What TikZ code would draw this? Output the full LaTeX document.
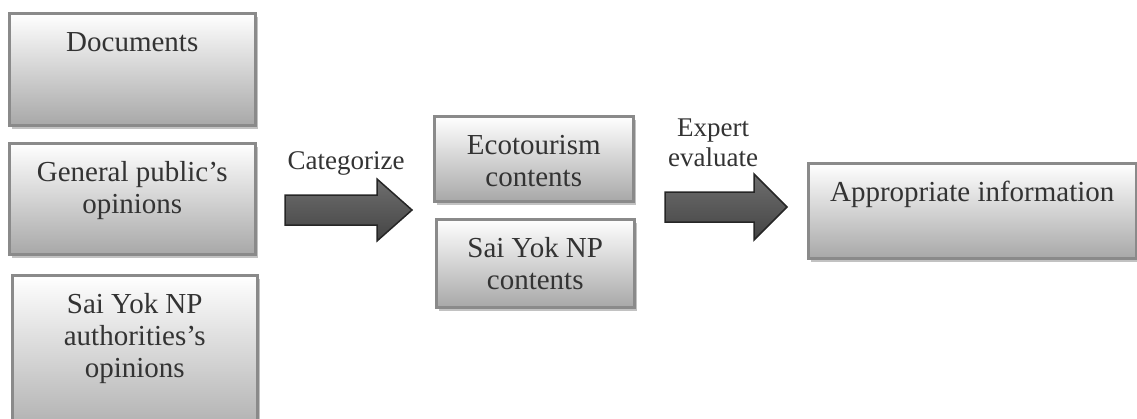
\documentclass[tikz,border=0pt]{standalone}
\usepackage{fontspec}
\setmainfont{Liberation Serif}
\usetikzlibrary{calc,shadows}
\definecolor{txt}{HTML}{333333}
\definecolor{bord}{HTML}{8A8A8A}
\definecolor{boxbot}{HTML}{A8A8A8}
\definecolor{shad}{HTML}{C2C2C2}
\definecolor{arrline}{HTML}{262626}
\definecolor{arrshad}{HTML}{A5A5A5}
\definecolor{arrtop}{HTML}{6E6E6E}
\definecolor{arrmid}{HTML}{1E1E1E}
\definecolor{arrbot}{HTML}{444444}
\begin{document}
\begin{tikzpicture}[x=1pt,y=-1pt,
  box/.style={draw=bord, line width=2.5pt, top color=white, bottom color=boxbot,
    anchor=north west, inner sep=0pt,
    drop shadow={shadow xshift=3pt, shadow yshift=-4pt, fill=shad, opacity=1}},
  btext/.style={font=\fontsize{29}{32}\selectfont, text=txt, align=center,
    inner sep=0pt, anchor=north},
  ltext/.style={font=\fontsize{27}{30}\selectfont, text=txt, align=center,
    inner sep=0pt, anchor=north},
  blockarrow/.style={draw=arrline, line width=1.5pt, line join=miter,
    top color=arrtop, middle color=arrmid, bottom color=arrbot},
  arrowshadow/.style={fill=arrshad, draw=none}
]
\useasboundingbox (0,0) rectangle (1137,418);
\clip (0,0) rectangle (1137,418);

% boxes
\node[box, minimum width=246pt, minimum height=112pt] (doc) at (8,12) {};
\node[box, minimum width=246pt, minimum height=111pt] (pub) at (8,142) {};
\node[box, minimum width=245pt, minimum height=170pt] (auth) at (11,274) {};
\node[box, minimum width=199pt, minimum height=85pt] (eco) at (433,115) {};
\node[box, minimum width=198pt, minimum height=88pt] (np) at (435,218) {};
\node[box, minimum width=328pt, minimum height=95pt] (app) at (807,162) {};

% box texts
\node[btext] (doct) at ($(doc.north)+(0,17)$) {\strut Documents};
\node[btext] (pubt) at ($(pub.north)+(0,17)$) {\strut General public’s\\opinions};
\node[btext] (autht) at ($(auth.north)+(0,17)$) {\strut Sai Yok NP\\authorities’s\\opinions};
\node[btext] (ecot) at ($(eco.north)+(0,17)$) {\strut Ecotourism\\contents};
\node[btext] (npt) at ($(np.north)+(0,17)$) {\strut Sai Yok NP\\contents};
\node[btext] (appt) at ($(app.north)+(0,17)$) {\strut Appropriate information};

% arrow 1
\coordinate (a1) at (285,210);
\coordinate (b1) at (412,210);
\begin{scope}[shift={(3,4)}]
\fill[arrowshadow] ($(a1)+(0,-15)$) -- ($(b1)+(-35,-15)$) -- ($(b1)+(-35,-31)$) -- (b1)
  -- ($(b1)+(-35,31)$) -- ($(b1)+(-35,15)$) -- ($(a1)+(0,15)$) -- cycle;
\end{scope}
\draw[blockarrow] ($(a1)+(0,-15)$) -- ($(b1)+(-35,-15)$) -- ($(b1)+(-35,-31)$) -- (b1)
  -- ($(b1)+(-35,31)$) -- ($(b1)+(-35,15)$) -- ($(a1)+(0,15)$) -- cycle;

% arrow 2
\coordinate (a2) at (665,207);
\coordinate (b2) at (787,207);
\begin{scope}[shift={(3,4)}]
\fill[arrowshadow] ($(a2)+(0,-15)$) -- ($(b2)+(-33,-15)$) -- ($(b2)+(-33,-33)$) -- (b2)
  -- ($(b2)+(-33,33)$) -- ($(b2)+(-33,15)$) -- ($(a2)+(0,15)$) -- cycle;
\end{scope}
\draw[blockarrow] ($(a2)+(0,-15)$) -- ($(b2)+(-33,-15)$) -- ($(b2)+(-33,-33)$) -- (b2)
  -- ($(b2)+(-33,33)$) -- ($(b2)+(-33,15)$) -- ($(a2)+(0,15)$) -- cycle;

% labels
\node[ltext] (cat) at (346,148) {\strut Categorize};
\node[ltext] (exp) at (713,115) {\strut Expert\\evaluate};
\end{tikzpicture}
\end{document}
